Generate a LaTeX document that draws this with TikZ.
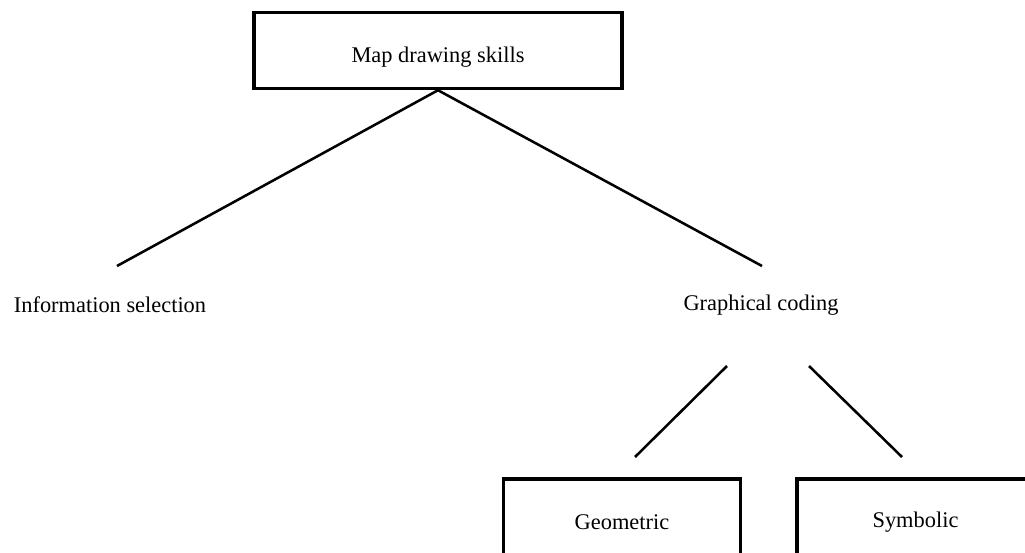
\documentclass[tikz,border=0pt]{standalone}
\usepackage{fontspec}
\setmainfont{Liberation Serif}

\tikzset{every picture/.style={line width=1.9pt}}
\tikzset{skillbox/.style={draw, line width=2.6pt, inner sep=0.75pt, font=\fontsize{16.8}{20}\selectfont},
         skilltext/.style={inner sep=0.75pt, font=\fontsize{16.8}{20}\selectfont}}

\begin{document}
\begin{tikzpicture}[x=0.75pt,y=0.75pt,yscale=-1,xscale=1]
\clip (0,0) rectangle (1025,553);

%Shape: Rectangle
\node [skillbox, minimum width=276pt, minimum height=57pt, text height=22pt, text depth=3.7pt] (skills) at (438,50.5) {Map drawing skills};

% Text Node
\node [skilltext] (info) at (110,305) {Information selection};
% Text Node
\node [skilltext] (coding) at (761,305) {Graphical coding};

%Shape: Rectangle
\node [skillbox, minimum width=178pt, minimum height=64.5pt] (geom) at (622,522) {Geometric};
%Shape: Rectangle
\node [skillbox, minimum width=178pt, minimum height=64.5pt] (symb) at (915.5,522) {Symbolic};

\coordinate (infoEnd) at (117,266);
\coordinate (codingEnd) at (762,266);
\coordinate (geomTop) at (727,366);
\coordinate (geomEnd) at (635,457);
\coordinate (symbTop) at (809,366);
\coordinate (symbEnd) at (902,457);

%Straight Lines
\draw (skills.south) -- (infoEnd) ;
\draw (skills.south) -- (codingEnd) ;
%Straight Lines
\draw (geomTop) -- (geomEnd) ;
\draw (symbTop) -- (symbEnd) ;

\end{tikzpicture}
\end{document}
